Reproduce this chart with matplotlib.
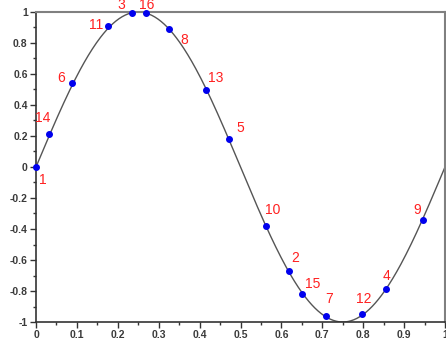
import numpy as np
import matplotlib
matplotlib.use('Agg')
import matplotlib.pyplot as plt

# sample points (label, x, y)
labels = ['1', '14', '6', '11', '3', '16', '8', '13', '5', '10', '2', '15', '7', '12', '4', '9']
px = [0.0, 0.032, 0.088, 0.177, 0.235, 0.269, 0.325, 0.415, 0.472, 0.562, 0.619, 0.651, 0.708, 0.798, 0.855, 0.945]
py = [0.0, 0.21, 0.54, 0.91, 0.995, 0.995, 0.89, 0.50, 0.18, -0.38, -0.67, -0.82, -0.96, -0.95, -0.79, -0.34]

xticks = [0, 0.1, 0.2, 0.3, 0.4, 0.5, 0.6, 0.7, 0.8, 0.9, 1]
yticks = [-1, -0.8, -0.6, -0.4, -0.2, 0, 0.2, 0.4, 0.6, 0.8, 1]

# label offsets in pixels (dx right, dy up)
offsets = [(7, -13), (-6, 16), (-11, 5), (-12, 1), (-11, 7.5), (1, 7.5), (15, -11), (10, 11),
           (11, 11), (7, 16), (6, 13), (10, 10), (4, 17), (1, 15), (1, 13), (-5, 10)]

fig = plt.figure(figsize=(4.46, 3.45), dpi=100)
ax = fig.add_axes([36 / 446, 23 / 345, 409 / 446, 310 / 345])

xs = np.linspace(0, 1, 400)
ax.plot(xs, np.sin(2 * np.pi * xs), color='#555555', lw=1.0, zorder=2)
ax.plot(px, py, 'o', color='#0000ee', ms=4, zorder=3, clip_on=False)

for lab, x, y, (dx, dy) in zip(labels, px, py, offsets):
    ax.annotate(lab, (x, y), xytext=(dx * 0.72, dy * 0.72), textcoords='offset points',
                ha='center', va='center', color='#ff2020', fontsize=10,
                family='Liberation Sans', annotation_clip=False)

ax.set_xlim(0, 1)
ax.set_ylim(-1, 1)
ax.set_xticks(xticks)
ax.set_xticklabels([('%g' % t) for t in xticks])
ax.set_yticks(yticks)
ax.set_yticklabels([('%g' % t) for t in yticks])
ax.set_xticks(np.arange(0.05, 1, 0.1), minor=True)
ax.set_yticks(np.arange(-0.9, 1, 0.2), minor=True)

ax.tick_params(which='major', length=4, width=1, color='#333333', labelsize=7.5,
               labelcolor='#3a3a3a', pad=2)
ax.tick_params(which='minor', length=2, width=1, color='#333333')
for lab in ax.get_xticklabels() + ax.get_yticklabels():
    lab.set_family('Liberation Sans')
    lab.set_fontweight('bold')

for side in ['left', 'bottom']:
    ax.spines[side].set_color('#333333')
    ax.spines[side].set_linewidth(1.2)
for side in ['top', 'right']:
    ax.spines[side].set_color('#808080')
    ax.spines[side].set_linewidth(1.5)

plt.savefig('out.png', dpi=100)
